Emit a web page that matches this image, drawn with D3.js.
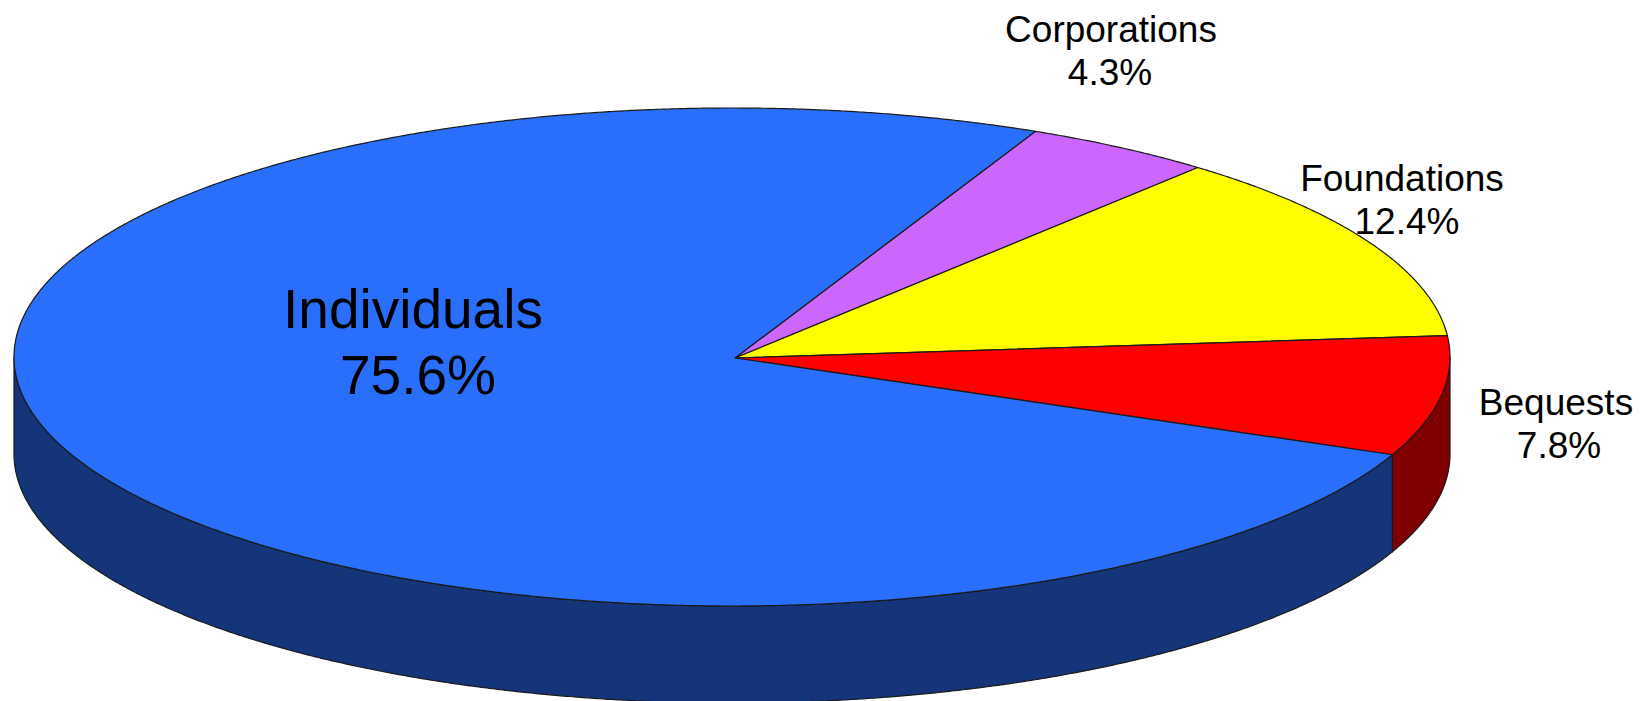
<!DOCTYPE html>
<html>
<head>
<meta charset="utf-8">
<script src="https://cdn.jsdelivr.net/npm/d3@7/dist/d3.min.js"></script>
<style>
  html, body { margin: 0; padding: 0; background: #fff; }
  svg { display: block; }
  text { font-family: "Liberation Sans", Arial, sans-serif; fill: #000; text-anchor: middle; }
</style>
</head>
<body>
<svg id="chart" width="1646" height="701"></svg>
<script>
// Sources of contributions, in clockwise order from the upper right
const categories = ["Corporations", "Foundations", "Bequests", "Individuals"];
const shares = [4.3, 12.4, 7.8, 75.6];
const topColors = ["#cc66ff", "#ffff00", "#ff0000", "#2a6efc"];
const wallColors = ["#66337f", "#7f7f00", "#7f0000", "#14357a"];

// Label placement: centre x of each line and the baselines of the two lines
const nameX = [1111, 1402, 1556, 413];
const shareX = [1110, 1407, 1559, 418];
const nameY = [42, 191, 415, 328];
const shareY = [85, 234, 458, 394];
const labelSize = [37, 37, 37, 55];

const cx = 732, cy = 357, rx = 718, ry = 249, depth = 97;
// The slices meet slightly right of and below the middle of the disc
const apex = [735, 358];
const startAngle = 25 * Math.PI / 180;

const slices = d3.pie()
  .sort(null)
  .startAngle(startAngle)
  .endAngle(startAngle + 2 * Math.PI)(shares);

const svg = d3.select("#chart");
const px = a => cx + rx * Math.sin(a);
const py = a => cy - ry * Math.cos(a);
const sweep = (a0, a1) => d3.range(a0, a1, 0.004).concat(a1);

// Side wall: only the part of each slice on the near half of the disc shows
const wallLo = Math.PI / 2, wallHi = 3 * Math.PI / 2;
const wall = d3.area().x(px).y0(py).y1(a => py(a) + depth);
svg.append("g").selectAll("path")
  .data(slices.filter(s => s.endAngle > wallLo && s.startAngle < wallHi))
  .join("path")
  .attr("d", s => wall(sweep(Math.max(s.startAngle, wallLo), Math.min(s.endAngle, wallHi))))
  .attr("fill", s => wallColors[s.index])
  .attr("stroke", "#1a1a1a")
  .attr("stroke-width", 1.2);

// Top face: each slice runs from the apex along the elliptical rim and back
const rim = d3.line();
svg.append("g").selectAll("path")
  .data(slices)
  .join("path")
  .attr("d", s => rim([apex, ...sweep(s.startAngle, s.endAngle).map(a => [px(a), py(a)])]) + "Z")
  .attr("fill", s => topColors[s.index])
  .attr("stroke", "#1a1a1a")
  .attr("stroke-width", 1.2)
  .attr("stroke-linejoin", "round");

const labels = svg.append("g").selectAll("g")
  .data(categories)
  .join("g")
  .attr("font-size", (d, i) => labelSize[i]);
labels.append("text")
  .attr("x", (d, i) => nameX[i])
  .attr("y", (d, i) => nameY[i])
  .text(d => d);
labels.append("text")
  .attr("x", (d, i) => shareX[i])
  .attr("y", (d, i) => shareY[i])
  .text((d, i) => shares[i].toFixed(1) + "%");
</script>
</body>
</html>
